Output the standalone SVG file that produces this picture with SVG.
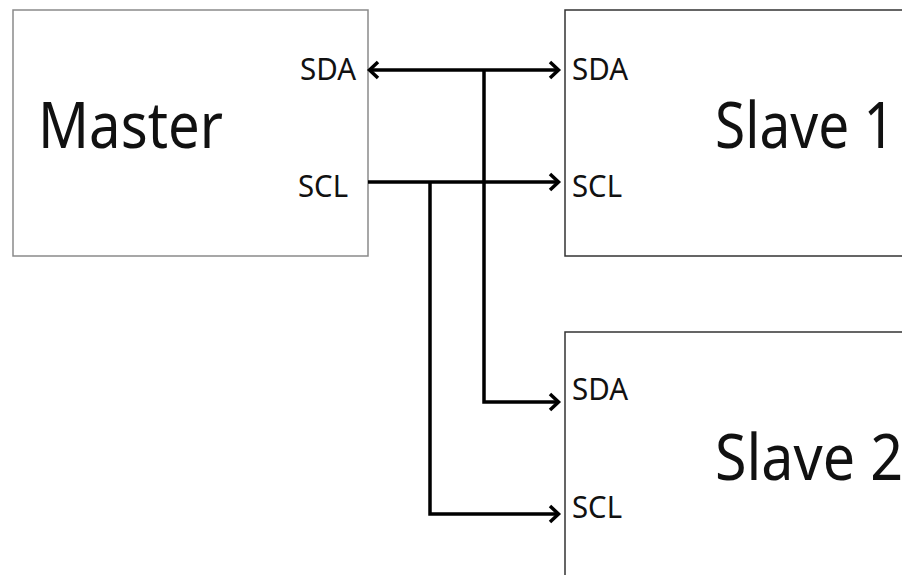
<svg xmlns="http://www.w3.org/2000/svg" width="902" height="575" viewBox="0 0 902 575">
<style>
.box{fill:#fff;stroke-width:1.5}
.m{stroke:#8a8a8a}
.s{stroke:#333}
.big{font-family:"Noto Sans","Open Sans",sans-serif;font-size:63px;fill:#111}
.lbl{font-family:"Noto Sans","Open Sans",sans-serif;font-size:30px;fill:#111}
.wire{fill:none;stroke:#000;stroke-width:3.5;stroke-linejoin:miter}
</style>
<defs>
<marker id="arr" markerUnits="userSpaceOnUse" markerWidth="24" markerHeight="24" viewBox="-14 -12 16 24" refX="0" refY="0" orient="auto-start-reverse">
<path d="M-9,-8 L-0.5,0 L-9,8" fill="none" stroke="#000" stroke-width="3.5"/>
</marker>
</defs>
<rect width="902" height="575" fill="#fff"/>
<g id="master">
<rect class="box m" x="13" y="10" width="355" height="246"/>
<text class="big" x="38" y="148" textLength="185" lengthAdjust="spacingAndGlyphs">Master</text>
<text class="lbl" x="300" y="80" textLength="56" lengthAdjust="spacingAndGlyphs">SDA</text>
<text class="lbl" x="298" y="197" textLength="50" lengthAdjust="spacingAndGlyphs">SCL</text>
</g>
<g id="slave1">
<rect class="box s" x="565" y="10" width="360" height="246"/>
<text class="big" x="715" y="148" textLength="180" lengthAdjust="spacingAndGlyphs">Slave 1</text>
<text class="lbl" x="572" y="80" textLength="56" lengthAdjust="spacingAndGlyphs">SDA</text>
<text class="lbl" x="572" y="197" textLength="50" lengthAdjust="spacingAndGlyphs">SCL</text>
</g>
<g id="slave2">
<rect class="box s" x="565" y="332" width="360" height="260"/>
<text class="big" x="715" y="480" textLength="188" lengthAdjust="spacingAndGlyphs">Slave 2</text>
<text class="lbl" x="572" y="400" textLength="56" lengthAdjust="spacingAndGlyphs">SDA</text>
<text class="lbl" x="572" y="518" textLength="50" lengthAdjust="spacingAndGlyphs">SCL</text>
</g>
<g id="connectors">
<path class="wire" d="M369,70 H559" marker-start="url(#arr)" marker-end="url(#arr)"/>
<path class="wire" d="M484,70 V402 H559" marker-end="url(#arr)"/>
<path class="wire" d="M368,182 H559" marker-end="url(#arr)"/>
<path class="wire" d="M430,182 V514 H559" marker-end="url(#arr)"/>
</g>
</svg>
